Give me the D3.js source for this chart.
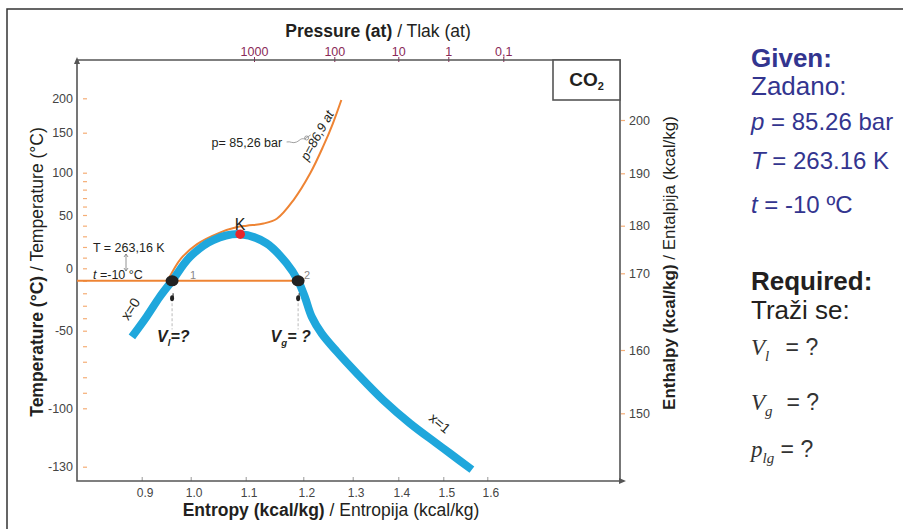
<!DOCTYPE html>
<html>
<head>
<meta charset="utf-8">
<script src="https://cdn.jsdelivr.net/npm/d3@7"></script>
<style>
  body { margin: 0; background: #fff; }
  svg { display: block; font-family: "Liberation Sans", Arial, sans-serif; }
</style>
</head>
<body>
<div id="chart"></div>
<script>
// ---- data ----
const tempTicks = [200, 150, 100, 50, 0, -50, -100, -130];
const tempMinorTicks = [90, 80, 70, 60, 40, 30, 20, 10, -10, -20, -30, -40, -60, -70, -80, -90];
const enthalpyTicks = [200, 190, 180, 170, 160, 150];
const entropyTicks = [0.9, 1.0, 1.1, 1.2, 1.3, 1.4, 1.5, 1.6];
const pressureTicks = [1000, 100, 10, 1, 0.1];

// saturation dome (x=0 left branch, x=1 right branch)
const satEntropy = [0.880, 0.910, 0.937, 0.962, 0.999, 1.041, 1.090, 1.136, 1.171, 1.191,
  1.203, 1.217, 1.237, 1.268, 1.309, 1.367, 1.426, 1.485, 1.515, 1.565];
const satTemp = [-54, -38.8, -22.8, -10, 10.9, 26.5, 32, 23.5, 4.7, -10,
  -22.8, -38.8, -51.7, -63.5, -77.4, -94.7, -107.7, -118, -123.1, -131.5];

// isobar p = 86,9 at
const isobarEntropy = [0.953, 0.980, 1.011, 1.053, 1.083, 1.102, 1.131, 1.154, 1.183, 1.214, 1.240, 1.260, 1.277];
const isobarTemp = [-10, 9, 22.5, 33.5, 38.5, 40, 42, 46.5, 67.7, 99.3, 132.5, 163.7, 197.5];

// isotherm t = -10 °C, state points and critical point
const isothermTemp = -10;
const statePoints = [{name: '1', s: 0.962, t: -10}, {name: '2', s: 1.191, t: -10}];
const criticalPoint = {name: 'K', s: 1.090, t: 32};

// ---- layout ----
const width = 903, height = 529;
const frame = {left: 77, top: 60, right: 620, bottom: 481};
// pixel stops of the (non-uniform) printed grids
const tempTickPx = [98.3, 132.7, 172.7, 215, 268.3, 330.7, 408.3, 466.7];
const enthalpyTickPx = [120, 173.3, 225.7, 273.3, 350, 413.3];
const entropyTickPx = [141.7, 190.7, 245.7, 303.3, 352.7, 398.3, 443.3, 487.3];
const pressureTickPx = [254, 334.3, 398.3, 448.3, 503.3];

const colors = {
  dome: '#1fa7dc',
  orange: '#ee8434',
  tick: '#f5ad75',
  axis: '#555',
  label: '#444',
  pressure: '#8a2a58',
  navy: '#33358f',
  dark: '#231f20'
};

const x = d3.scaleLinear()
  .domain([0.768, ...entropyTicks, 1.9])
  .range([frame.left, ...entropyTickPx, frame.right]);
const y = d3.scaleLinear()
  .domain([255.7, ...tempTicks, -137.3])
  .range([frame.top, ...tempTickPx, frame.bottom]);
const yH = d3.scaleLinear().domain(enthalpyTicks).range(enthalpyTickPx);
const xP = d3.scaleLog().domain(pressureTicks).range(pressureTickPx);

const svg = d3.select('#chart').append('svg')
  .attr('width', width)
  .attr('height', height);

// page frame
svg.append('path')
  .attr('d', `M7,${height}V9H${width}`)
  .attr('fill', 'none')
  .attr('stroke', '#333')
  .attr('stroke-width', 1.5);

// ---- axes ----
function cleanAxis(g, size, color) {
  g.attr('font-size', null).attr('font-family', null);
  g.select('.domain').remove();
  g.selectAll('text').attr('fill', color).style('font-size', size);
}

svg.append('g')
  .attr('transform', `translate(${frame.left},0)`)
  .call(d3.axisLeft(y).tickValues(tempTicks).tickSize(0).tickPadding(4).tickFormat(d => String(d)))
  .call(g => cleanAxis(g, '12.5px', colors.label));

// orange dashes beside the temperature axis
svg.append('g')
  .attr('transform', `translate(${frame.left + 6},0)`)
  .call(d3.axisRight(y).tickValues(tempTicks.concat(tempMinorTicks)).tickSize(4).tickFormat(''))
  .call(g => {
    g.select('.domain').remove();
    g.selectAll('line').attr('stroke', colors.tick).attr('stroke-width', 1.2);
  });

svg.append('g')
  .attr('transform', `translate(${frame.right},0)`)
  .call(d3.axisRight(yH).tickValues(enthalpyTicks).tickSize(5).tickPadding(4))
  .call(g => {
    cleanAxis(g, '12.5px', colors.label);
    g.selectAll('line').attr('stroke', colors.tick).attr('x1', 1).attr('stroke-width', 1.2);
  });

svg.append('g')
  .attr('transform', `translate(0,${frame.bottom})`)
  .call(d3.axisBottom(x).tickValues(entropyTicks).tickSizeInner(-4).tickSizeOuter(0).tickPadding(7)
    .tickFormat(d3.format('.1f')))
  .call(g => {
    cleanAxis(g, '12px', colors.label);
    g.selectAll('line').attr('stroke', '#999');
    g.selectAll('text').attr('dx', 3);
  });

svg.append('g')
  .attr('transform', `translate(0,${frame.top})`)
  .call(d3.axisTop(xP).tickValues(pressureTicks).tickSizeInner(3).tickSizeOuter(0).tickPadding(1)
    .tickFormat(d => String(d).replace('.', ',')))
  .call(g => {
    cleanAxis(g, '12.5px', colors.pressure);
    g.selectAll('line').attr('stroke', colors.pressure).attr('y2', -3).attr('y1', 2);
  });

// plot frame with arrows on the left and bottom axes
const frameG = svg.append('g').attr('fill', 'none').attr('stroke', colors.axis).attr('stroke-width', 1.6);
frameG.append('path').attr('d', `M${frame.left},${frame.top}H${frame.right}V${frame.bottom}`);
frameG.append('path').attr('d', `M${frame.left},${frame.top - 1}V${frame.bottom}H${frame.right + 4}`);
svg.append('path')
  .attr('d', `M${frame.left},${frame.top - 3}l-3,7h6z M${frame.right + 6},${frame.bottom}l-7,-3v6z`)
  .attr('fill', colors.axis);

// CO2 label box
const boxX = 553, boxY = frame.top;
svg.append('rect')
  .attr('x', boxX).attr('y', boxY).attr('width', frame.right - boxX).attr('height', 40)
  .attr('fill', '#fff').attr('stroke', colors.axis).attr('stroke-width', 1.6);
svg.append('text')
  .attr('x', (boxX + frame.right) / 2).attr('y', boxY + 26)
  .attr('text-anchor', 'middle')
  .attr('font-weight', 'bold').attr('font-size', 19).attr('fill', colors.dark)
  .call(t => {
    t.append('tspan').text('CO');
    t.append('tspan').attr('font-size', 11).attr('dy', 4).text('2');
  });

// axis titles
function mixedTitle(sel, bold, rest) {
  sel.append('tspan').attr('font-weight', 'bold').text(bold);
  sel.append('tspan').text(rest);
}
svg.append('text')
  .attr('x', 378).attr('y', 36.5).attr('text-anchor', 'middle')
  .attr('font-size', 17.5).attr('fill', colors.dark)
  .call(mixedTitle, 'Pressure (at)', ' / Tlak (at)');
svg.append('text')
  .attr('x', 331).attr('y', 516).attr('text-anchor', 'middle')
  .attr('font-size', 17.5).attr('fill', colors.dark)
  .call(mixedTitle, 'Entropy (kcal/kg)', ' / Entropija (kcal/kg)');
svg.append('text')
  .attr('transform', 'translate(42.5,272) rotate(-90)').attr('text-anchor', 'middle')
  .attr('font-size', 17.5).attr('fill', colors.dark)
  .call(mixedTitle, 'Temperature (°C)', ' / Temperature (°C)');
svg.append('text')
  .attr('transform', 'translate(675,263) rotate(-90)').attr('text-anchor', 'middle')
  .attr('font-size', 17).attr('fill', colors.dark)
  .call(mixedTitle, 'Enthalpy (kcal/kg)', ' / Entalpija (kcal/kg)');

// ---- curves ----
const curve = d3.line()
  .curve(d3.curveCatmullRom)
  .x(d => x(d[0]))
  .y(d => y(d[1]));

// isotherm from the temperature axis to the dew point
svg.append('line')
  .attr('x1', x(x.domain()[0])).attr('x2', x(statePoints[1].s))
  .attr('y1', y(isothermTemp)).attr('y2', y(isothermTemp))
  .attr('stroke', colors.orange).attr('stroke-width', 2);

svg.append('path')
  .datum(d3.zip(isobarEntropy, isobarTemp))
  .attr('d', curve)
  .attr('fill', 'none')
  .attr('stroke', colors.orange)
  .attr('stroke-width', 2);

svg.append('path')
  .datum(d3.zip(satEntropy, satTemp))
  .attr('d', curve)
  .attr('fill', 'none')
  .attr('stroke', colors.dome)
  .attr('stroke-width', 8);

// ---- points ----
svg.selectAll('.state')
  .data(statePoints)
  .enter()
  .append('ellipse')
  .attr('class', 'state')
  .attr('cx', d => x(d.s)).attr('cy', d => y(d.t))
  .attr('rx', 6.5).attr('ry', 5.5)
  .attr('fill', '#222');

svg.append('circle')
  .attr('cx', x(criticalPoint.s)).attr('cy', y(criticalPoint.t))
  .attr('r', 4.8)
  .attr('fill', '#e8262b');

// ---- annotations ----
const ann = svg.append('g').attr('fill', colors.dark);

ann.append('text')
  .attr('x', x(criticalPoint.s)).attr('y', y(criticalPoint.t) - 4.5)
  .attr('text-anchor', 'middle').attr('font-size', 16)
  .text(criticalPoint.name);

ann.selectAll('.num')
  .data(statePoints)
  .enter()
  .append('text')
  .attr('x', (d, i) => x(d.s) + (i === 0 ? 18 : 6))
  .attr('y', d => y(d.t) - 1.5)
  .attr('font-size', 11).attr('fill', '#888')
  .text(d => d.name);

// state markers and the dashed leaders down to the unknowns
statePoints.forEach(d => {
  const px = x(d.s);
  ann.append('path')
    .attr('d', `M${px + 1},${y(-20)}v4`)
    .attr('stroke', '#222').attr('stroke-width', 1);
  ann.append('ellipse')
    .attr('cx', px).attr('cy', y(d.t - 14))
    .attr('rx', 2).attr('ry', 3).attr('fill', '#222');
  ann.append('line')
    .attr('x1', px).attr('x2', px)
    .attr('y1', y(d.t - 18)).attr('y2', y(d.t - 39))
    .attr('stroke', '#aaa').attr('stroke-width', 0.8).attr('stroke-dasharray', '3 2');
});

function subLabel(sel, main, sub, rest) {
  sel.append('tspan').text(main);
  sel.append('tspan').attr('font-size', '0.6em').attr('dy', 4).text(sub);
  sel.append('tspan').attr('dy', -4).text(rest);
}
ann.append('text')
  .attr('x', x(statePoints[0].s) - 15).attr('y', y(-57))
  .attr('font-size', 16).attr('font-weight', 'bold').attr('font-style', 'italic')
  .call(subLabel, 'V', 'l', '=?');
ann.append('text')
  .attr('x', x(statePoints[1].s) - 27.5).attr('y', y(-57))
  .attr('font-size', 16).attr('font-weight', 'bold').attr('font-style', 'italic')
  .call(subLabel, 'V', 'g', '= ?');

ann.append('text')
  .attr('x', x(0.8006)).attr('y', y(15.3))
  .attr('font-size', 12.5)
  .text('T = 263,16 K');
ann.append('text')
  .attr('x', x(0.8006)).attr('y', y(isothermTemp) - 2)
  .attr('font-size', 12.5)
  .call(t => {
    t.append('tspan').attr('font-style', 'italic').text('t');
    t.append('tspan').text(' =-10 °C');
  });
// small double arrow between the two temperature notes
const arrX = x(0.868);
ann.append('path')
  .attr('d', `M${arrX},${y(13.4)}V${y(-2.2)} M${arrX - 2},${y(13.4) + 3}L${arrX},${y(13.4)}L${arrX + 2},${y(13.4) + 3} M${arrX - 2},${y(-2.2) - 3}L${arrX},${y(-2.2)}L${arrX + 2},${y(-2.2) - 3}`)
  .attr('fill', 'none').attr('stroke', '#777').attr('stroke-width', 0.8);

ann.append('text')
  .attr('transform', `translate(${x(0.881) - 2},${y(-33.4) - 1}) rotate(-57)`)
  .attr('text-anchor', 'middle').attr('dy', '0.35em')
  .attr('font-size', 14)
  .text('x=0');
ann.append('text')
  .attr('transform', `translate(${x(1.488) + 2},${y(-109.1) - 3}) rotate(40)`)
  .attr('text-anchor', 'middle').attr('dy', '0.35em')
  .attr('font-size', 14)
  .text('x=1');

ann.append('text')
  .attr('x', x(1.038)).attr('y', y(132.1))
  .attr('font-size', 12.5)
  .text('p= 85,26 bar');
ann.append('text')
  .attr('transform', `translate(${x(1.236) - 4},${y(144) - 2}) rotate(-61)`)
  .attr('text-anchor', 'middle').attr('dy', '0.35em')
  .attr('font-size', 13).attr('font-style', 'italic')
  .text('p=86,9 at');
// leader from the bar note to the isobar
const lx = x(1.171), ly = y(138.4);
ann.append('path')
  .attr('d', `M${lx},${ly} c4,-1 6,2 10,0 s4,-4 8,-3 M${lx + 18},${ly - 3} l6,-4`)
  .attr('fill', 'none').attr('stroke', '#888').attr('stroke-width', 0.8);
ann.append('circle')
  .attr('cx', lx + 20).attr('cy', ly - 4).attr('r', 2)
  .attr('fill', 'none').attr('stroke', '#888').attr('stroke-width', 0.8);

// ---- given / required panel ----
const panel = svg.append('g').attr('transform', 'translate(751,0)');
const given = panel.append('g').attr('fill', colors.navy);
given.append('text').attr('y', 66.7).attr('font-size', 26).attr('font-weight', 'bold').text('Given:');
given.append('text').attr('y', 95).attr('font-size', 26).text('Zadano:');
[['p', ' = 85.26 bar', 129.5], ['T', ' = 263.16 K', 169], ['t', ' = -10 ºC', 212.5]].forEach(r => {
  given.append('text').attr('y', r[2]).attr('font-size', 24)
    .call(t => {
      t.append('tspan').attr('font-style', 'italic').text(r[0]);
      t.append('tspan').text(r[1]);
    });
});

const req = panel.append('g').attr('fill', colors.dark);
req.append('text').attr('y', 290).attr('font-size', 26).attr('font-weight', 'bold').text('Required:');
req.append('text').attr('y', 318.5).attr('font-size', 26).text('Traži se:');
[['V', 'l', 355, 20], ['V', 'g', 410, 15], ['p', 'lg', 457, 0]].forEach(r => {
  req.append('text').attr('y', r[2]).attr('font-size', 23).attr('fill', '#333')
    .call(t => {
      t.append('tspan').attr('font-family', '"Liberation Serif", "Times New Roman", serif')
        .attr('font-style', 'italic').text(r[0]);
      t.append('tspan').attr('font-family', '"Liberation Serif", "Times New Roman", serif')
        .attr('font-style', 'italic').attr('font-size', 15).attr('dy', 6).text(r[1]);
      t.append('tspan').attr('dy', -6).attr('dx', r[3] / 2).text(' = ?');
    });
});
</script>
</body>
</html>
